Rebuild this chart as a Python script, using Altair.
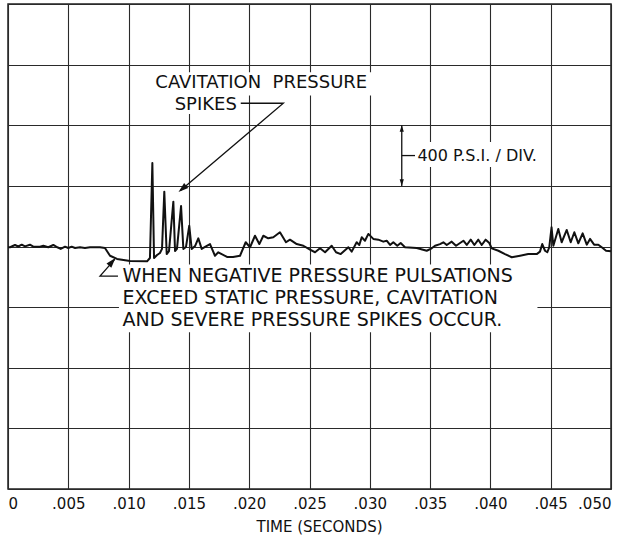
import altair as alt
import pandas as pd

# ---- trace: time (ms) and pressure (psi) ----
t_ms = [0.00, 0.17, 0.58, 0.85, 1.14, 1.41, 1.82, 2.10, 2.65, 2.93, 3.34, 3.76, 4.09, 4.37, 4.73,
        5.00, 5.28, 5.56, 5.97, 6.38, 6.80, 7.63, 8.04, 8.46, 9.04, 10.12, 11.53, 11.77,
        11.97, 12.11, 12.36, 12.60, 12.77, 12.96, 13.16, 13.35, 13.71, 13.85, 14.01, 14.35,
        14.54, 14.76, 15.03, 15.23, 15.51, 15.78, 16.06, 16.34, 16.75, 17.16, 17.44, 18.16,
        18.66, 19.24, 19.71, 20.07, 20.48, 20.84, 21.17, 21.58, 22.00, 22.55, 23.05, 23.38,
        23.94, 24.49, 25.04, 25.46, 25.87, 26.29, 26.84, 27.20, 27.59, 28.22, 28.50, 28.91,
        29.13, 29.33, 29.60, 29.88, 30.29, 30.71, 31.12, 31.40, 31.68, 31.95, 32.28, 32.56,
        32.92, 33.89, 34.72, 35.13, 35.41, 35.82, 36.10, 36.38, 36.79, 37.15, 37.76, 38.04,
        38.37, 38.67, 39.00, 39.28, 39.61, 39.91, 40.11, 40.66, 41.21, 41.77, 42.46, 43.14,
        43.84, 44.11, 44.30, 44.53, 44.72, 44.88, 45.07, 45.22, 45.63, 45.91, 46.33, 46.66,
        46.96, 47.29, 47.65, 47.99, 48.26, 48.60, 48.95, 49.23, 49.59, 50.00]
psi = [-5, -5, 10, 0, 12, 1, 12, -1, -1, 5, -5, 10, -5, -16, -1,
       -10, -1, -10, -5, -10, -5, -5, -10, -61, -82, -96, -98, -76,
       551, -76, -56, -43, -16, 362, -50, -30, 296, -30, -16, 267,
       -16, -3, 137, -16, 3, 54, -16, -3, 16, -61, -38, -69,
       -69, -61, 28, -5, 71, 16, 71, 54, 61, 94, 28, 45,
       16, 5, -21, -38, -12, -38, 5, -38, -50, -5, -34, 28,
       10, 61, 38, 83, 50, 45, 32, 38, 10, 28, 5, 23,
       -5, -10, -28, -12, 5, 16, 28, 10, 32, 5, 38, 10,
       45, 10, 45, 10, 45, 23, -12, -28, -50, -71, -61, -50,
       -50, -34, 16, -28, -38, -5, 127, 5, 116, 28, 109, 28,
       94, 21, 87, 12, 50, 12, 12, -5, -28, -32]

x_ticks = [0, 5, 10, 15, 20, 25, 30, 35, 40, 45, 50]
y_ticks = [-1600, -1200, -800, -400, 0, 400, 800, 1200, 1600]

# ---- annotations ----
txt_center = ["CAVITATION\u00a0\u00a0PRESSURE", "SPIKES"]
txt_center_t = [21.0, 16.40]
txt_center_p = [1082, 935]

txt_scale = ["400 P.S.I. / DIV."]
txt_scale_t = [33.95]
txt_scale_p = [600]

txt_note = ["WHEN NEGATIVE PRESSURE PULSATIONS",
            "EXCEED STATIC PRESSURE, CAVITATION",
            "AND SEVERE PRESSURE SPIKES OCCUR."]
txt_note_t = [9.50, 9.50, 9.50]
txt_note_p = [-195, -340, -485]

# white label backgrounds (t0, t1, p0, p1)
box_t0 = [11.30, 13.10, 33.25, 9.20]
box_t1 = [30.60, 19.60, 44.40, 43.90]
box_p0 = [997, 875, 525, -565]
box_p1 = [1150, 1000, 690, -118]

# leader lines
lead_seg = ["a", "a", "a", "b", "b", "c", "c", "d", "d", "d"]
lead_t = [19.30, 22.83, 14.30, 32.65, 32.65, 32.65, 33.75, 9.12, 7.63, 8.85]
lead_p = [945, 945, 370, 800, 400, 600, 600, -195, -195, -85]

# arrowheads (tip position and direction)
arr_t = [14.14, 32.65, 32.65, 8.91]
arr_p = [360, 800, 400, -76]
arr_ang = [230, 0, 180, 41]
arr_size = [400, 170, 170, 400]

trace = pd.DataFrame({"t": t_ms, "p": psi})
tc = pd.DataFrame({"text": txt_center, "t": txt_center_t, "p": txt_center_p})
ts = pd.DataFrame({"text": txt_scale, "t": txt_scale_t, "p": txt_scale_p})
tn = pd.DataFrame({"text": txt_note, "t": txt_note_t, "p": txt_note_p})
boxes = pd.DataFrame({"t0": box_t0, "t1": box_t1, "p0": box_p0, "p1": box_p1})
leads = pd.DataFrame({"seg": lead_seg, "t": lead_t, "p": lead_p, "i": list(range(len(lead_t)))})
arrows = pd.DataFrame({"t": arr_t, "p": arr_p, "ang": arr_ang, "s": arr_size})

FONT = "DejaVu Sans"
xs = alt.Scale(domain=[0, 50], nice=False, zero=False)
ys = alt.Scale(domain=[-1600, 1600], nice=False, zero=False)

x_axis = alt.Axis(values=x_ticks, grid=True, gridColor="#2a2a2a", gridWidth=1.1, gridOpacity=1,
                  ticks=False, domain=False, labelFont=FONT, labelFontSize=15, labelColor="#111",
                  labelPadding=7, labelExpr="datum.value == 0 ? '0' : replace(format(datum.value / 1000, '.3f'), '0.', '.')",
                  title="TIME (SECONDS)", titleFont=FONT, titleFontSize=15, titleFontWeight="normal",
                  titleColor="#111", titlePadding=8, titleX=311, titleAlign="center")
y_axis = alt.Axis(values=y_ticks, grid=True, gridColor="#2a2a2a", gridWidth=1.1, gridOpacity=1,
                  ticks=False, domain=False, labels=False, title=None)

line = alt.Chart(trace).mark_line(color="#111", strokeWidth=2, strokeJoin="round").encode(
    x=alt.X("t:Q", scale=xs, axis=x_axis),
    y=alt.Y("p:Q", scale=ys, axis=y_axis),
)

rects = alt.Chart(boxes).mark_rect(color="white").encode(
    x=alt.X("t0:Q", scale=xs), x2="t1:Q",
    y=alt.Y("p0:Q", scale=ys), y2="p1:Q",
)

leaders = alt.Chart(leads).mark_line(color="#111", strokeWidth=1.3).encode(
    x=alt.X("t:Q", scale=xs), y=alt.Y("p:Q", scale=ys),
    detail="seg:N", order="i:Q",
)

heads = alt.Chart(arrows).mark_point(shape="M0,0L-0.32,1L0.32,1Z", filled=True, color="#111", opacity=1).encode(
    x=alt.X("t:Q", scale=xs), y=alt.Y("p:Q", scale=ys),
    angle=alt.Angle("ang:Q", scale=None),
    size=alt.Size("s:Q", scale=None),
)

text_c = alt.Chart(tc).mark_text(font=FONT, fontSize=18, color="#111", align="center", baseline="middle").encode(
    x=alt.X("t:Q", scale=xs), y=alt.Y("p:Q", scale=ys), text="text:N")

text_s = alt.Chart(ts).mark_text(font=FONT, fontSize=16, color="#111", align="left", baseline="middle").encode(
    x=alt.X("t:Q", scale=xs), y=alt.Y("p:Q", scale=ys), text="text:N")

text_n = alt.Chart(tn).mark_text(font=FONT, fontSize=19, color="#111", align="left", baseline="middle").encode(
    x=alt.X("t:Q", scale=xs), y=alt.Y("p:Q", scale=ys), text="text:N")

chart = alt.layer(rects, line, leaders, heads, text_c, text_s, text_n).properties(
    width=603, height=485,
    autosize=alt.AutoSizeParams(type="none"),
    padding={"left": 8, "top": 4, "right": 18, "bottom": 46},
    background="white",
).configure_view(stroke="#222", strokeWidth=1.5)

chart.save("out.html", embed_options={"renderer": "svg", "actions": False})
